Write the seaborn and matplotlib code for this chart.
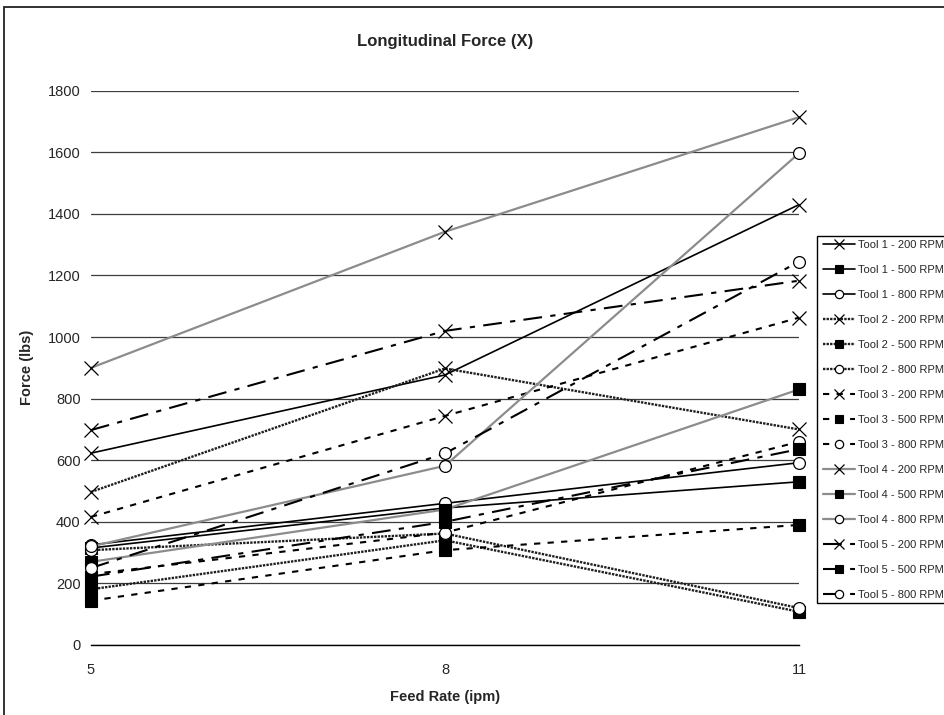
import matplotlib
matplotlib.use("Agg")
import matplotlib.pyplot as plt
import seaborn as sns
import pandas as pd
from matplotlib.patches import Rectangle

sns.set_style("white")
plt.rcParams['font.family'] = ['Liberation Sans', 'DejaVu Sans']

feed_rates = [5, 8, 11]
series_names = [
    "Tool 1 - 200 RPM", "Tool 1 - 500 RPM", "Tool 1 - 800 RPM",
    "Tool 2 - 200 RPM", "Tool 2 - 500 RPM", "Tool 2 - 800 RPM",
    "Tool 3 - 200 RPM", "Tool 3 - 500 RPM", "Tool 3 - 800 RPM",
    "Tool 4 - 200 RPM", "Tool 4 - 500 RPM", "Tool 4 - 800 RPM",
    "Tool 5 - 200 RPM", "Tool 5 - 500 RPM", "Tool 5 - 800 RPM",
]
tool1_200 = [623, 877, 1430]
tool1_500 = [315, 445, 530]
tool1_800 = [325, 460, 592]
tool2_200 = [497, 898, 700]
tool2_500 = [181, 340, 108]
tool2_800 = [308, 362, 120]
tool3_200 = [416, 744, 1063]
tool3_500 = [144, 308, 390]
tool3_800 = [230, 365, 660]
tool4_200 = [900, 1342, 1714]
tool4_500 = [270, 440, 830]
tool4_800 = [320, 582, 1597]
tool5_200 = [698, 1020, 1183]
tool5_500 = [222, 400, 636]
tool5_800 = [250, 622, 1245]

values = [tool1_200, tool1_500, tool1_800, tool2_200, tool2_500, tool2_800,
          tool3_200, tool3_500, tool3_800, tool4_200, tool4_500, tool4_800,
          tool5_200, tool5_500, tool5_800]

rows = []
for name, vals in zip(series_names, values):
    for fr, v in zip(feed_rates, vals):
        rows.append({"Feed Rate": fr, "Force": v, "Series": name})
df = pd.DataFrame(rows)

tool_styles = {
    1: dict(color="black", ls="-", lw=1.2),
    2: dict(color="#1e1e1e", ls=(0, (1.0, 0.5)), lw=1.7),
    3: dict(color="black", ls=(0, (3, 3.5)), lw=1.5),
    4: dict(color="#8c8c8c", ls="-", lw=1.6),
    5: dict(color="black", ls=(0, (9, 4, 2.5, 4)), lw=1.5),
}
rpm_markers = {
    "200": dict(marker="x", mfc="black", ms=9.5, mew=0.9),
    "500": dict(marker="s", mfc="black", ms=8.5, mew=0.8),
    "800": dict(marker="o", mfc="white", ms=8.5, mew=0.9),
}

fig = plt.figure(figsize=(9.45, 7.15), dpi=100)
ax = fig.add_axes([91 / 945, 1 - 645 / 715, (799 - 91) / 945, (645 - 90.7) / 715])

for name in series_names:
    tool = int(name.split()[1])
    rpm = name.split()[3]
    st = tool_styles[tool]
    mk = rpm_markers[rpm]
    sub = df[df["Series"] == name]
    sns.lineplot(data=sub, x="Feed Rate", y="Force", ax=ax, color=st["color"],
                 linestyle=st["ls"], linewidth=st["lw"], marker=mk["marker"],
                 markersize=mk["ms"], markerfacecolor=mk["mfc"],
                 markeredgecolor="black", markeredgewidth=mk["mew"],
                 label=name, legend=False, clip_on=False, zorder=3)

ax.set_xlim(5, 11)
ax.set_ylim(0, 1800)
ax.set_xticks(feed_rates)
ax.set_xticklabels([str(f) for f in feed_rates])
ax.set_yticks(range(0, 1801, 200))
ax.yaxis.grid(True, color="#3c3c3c", linewidth=0.9)
ax.xaxis.grid(False)
ax.set_axisbelow(True)
for s in ["top", "right", "left"]:
    ax.spines[s].set_visible(False)
ax.spines["bottom"].set_color("black")
ax.spines["bottom"].set_linewidth(1.0)
ax.tick_params(axis="x", direction="out", length=5, width=0.9, color="black",
               labelsize=10.5, pad=8)
ax.tick_params(axis="y", length=0, labelsize=10.5, pad=7.5)

ax.set_xlabel("Feed Rate (ipm)", fontsize=10.5, fontweight="bold", labelpad=9)
ax.set_ylabel("Force (lbs)", fontsize=10.5, fontweight="bold", labelpad=10)
ax.set_title("Longitudinal Force (X)", fontsize=12, fontweight="bold", pad=32)

handles, labels = ax.get_legend_handles_labels()
leg = fig.legend(handles, labels, loc="upper left",
                 bbox_to_anchor=(819 / 945, 1 - 236 / 715),
                 fontsize=8, frameon=False,
                 handlelength=2.9, handletextpad=0.25, labelspacing=1.35,
                 borderpad=0.35, borderaxespad=0, markerscale=0.7)

# legend box extends past the right edge, as in the original (cropped) chart
fig.patches.append(Rectangle((817 / 945, 1 - 603 / 715), 0.3, (603 - 236) / 715,
                             transform=fig.transFigure, fill=True,
                             facecolor="white", edgecolor="black",
                             linewidth=1.0, zorder=0.5))

fig.patches.append(Rectangle((4 / 945, -0.05), 1.2, 1 - 7 / 715 + 0.05,
                             transform=fig.transFigure, fill=False,
                             edgecolor="#222222", linewidth=1.3, zorder=0))

fig.savefig("out.png", dpi=100)
